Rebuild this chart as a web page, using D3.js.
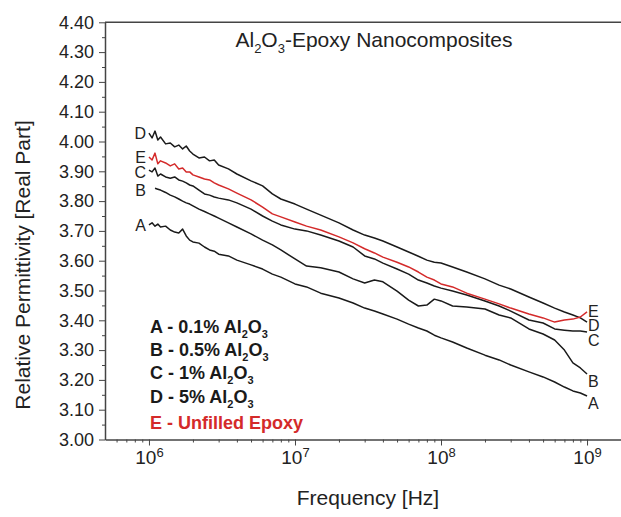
<!DOCTYPE html>
<html>
<head>
<meta charset="utf-8">
<script src="https://cdn.jsdelivr.net/npm/d3@7"></script>
<style>
  body { margin: 0; background: #fff; }
  svg { display: block; font-family: "Liberation Sans", Arial, sans-serif; }
</style>
</head>
<body>
<div id="chart"></div>
<script>
// frequencies (Hz) shared by all curves
const freqs = [1.0e6, 1.05e6, 1.1e6, 1.15e6, 1.2e6, 1.3e6, 1.4e6, 1.5e6, 1.6e6, 1.7e6,
  1.8e6, 1.9e6, 2.0e6, 2.2e6, 2.4e6, 2.6e6, 2.8e6, 3.0e6, 3.5e6, 4e6,
  5e6, 6e6, 7e6, 8e6, 1e7, 1.2e7, 1.5e7, 2e7, 2.5e7, 3e7,
  3.5e7, 4e7, 5e7, 6e7, 7e7, 8e7, 9e7, 1e8, 1.2e8, 1.5e8,
  2e8, 2.5e8, 3e8, 4e8, 5e8, 6e8, 7e8, 8e8, 9e8, 1e9];

const valuesA = [3.720, 3.727, 3.716, 3.723, 3.713, 3.716, 3.703, 3.696, 3.693, 3.706,
  3.683, 3.669, 3.663, 3.659, 3.646, 3.636, 3.632, 3.622, 3.616, 3.602,
  3.586, 3.572, 3.555, 3.545, 3.522, 3.512, 3.491, 3.475, 3.458, 3.441,
  3.431, 3.421, 3.404, 3.387, 3.374, 3.364, 3.350, 3.341, 3.327, 3.307,
  3.283, 3.267, 3.250, 3.227, 3.210, 3.193, 3.176, 3.163, 3.156, 3.146];

const valuesB = [null, null, 3.843, 3.840, 3.837, 3.829, 3.820, 3.814, 3.807, 3.800,
  3.794, 3.790, 3.784, 3.773, 3.765, 3.757, 3.750, 3.743, 3.727, 3.713,
  3.690, 3.669, 3.653, 3.636, 3.606, 3.582, 3.576, 3.562, 3.539, 3.525,
  3.535, 3.529, 3.498, 3.468, 3.448, 3.451, 3.471, 3.465, 3.448, 3.445,
  3.438, 3.418, 3.408, 3.371, 3.354, 3.334, 3.300, 3.257, 3.240, 3.220];

const valuesC = [3.904, 3.898, 3.911, 3.884, 3.891, 3.881, 3.877, 3.881, 3.871, 3.867,
  3.861, 3.854, 3.851, 3.837, 3.824, 3.820, 3.814, 3.810, 3.804, 3.794,
  3.773, 3.750, 3.733, 3.720, 3.706, 3.700, 3.686, 3.666, 3.646, 3.616,
  3.606, 3.592, 3.572, 3.555, 3.535, 3.525, 3.515, 3.508, 3.498, 3.485,
  3.465, 3.448, 3.431, 3.401, 3.391, 3.371, 3.367, 3.364, 3.364, 3.361];

const valuesD = [4.028, 4.012, 4.035, 4.005, 4.015, 3.992, 3.995, 3.982, 3.988, 3.975,
  3.985, 3.968, 3.958, 3.945, 3.948, 3.935, 3.938, 3.921, 3.908, 3.891,
  3.868, 3.851, 3.824, 3.807, 3.790, 3.773, 3.753, 3.727, 3.703, 3.686,
  3.676, 3.666, 3.646, 3.629, 3.615, 3.602, 3.595, 3.592, 3.579, 3.562,
  3.539, 3.518, 3.505, 3.478, 3.458, 3.441, 3.428, 3.418, 3.408, 3.394];

const valuesE = [3.948, 3.938, 3.961, 3.925, 3.935, 3.928, 3.918, 3.925, 3.908, 3.911,
  3.898, 3.898, 3.888, 3.881, 3.874, 3.871, 3.861, 3.854, 3.841, 3.827,
  3.804, 3.780, 3.757, 3.747, 3.730, 3.716, 3.703, 3.680, 3.660, 3.640,
  3.626, 3.612, 3.595, 3.579, 3.562, 3.545, 3.535, 3.522, 3.512, 3.491,
  3.471, 3.455, 3.441, 3.421, 3.408, 3.394, 3.401, 3.404, 3.411, 3.428];

const seriesNames = ["A", "B", "C", "D", "E"];
const legendLabels = ["A - 0.1% Al_2O_3", "B - 0.5% Al_2O_3", "C - 1% Al_2O_3", "D - 5% Al_2O_3", "E - Unfilled Epoxy"];
const yTicks = [3.00, 3.10, 3.20, 3.30, 3.40, 3.50, 3.60, 3.70, 3.80, 3.90, 4.00, 4.10, 4.20, 4.30, 4.40];
const xTicks = [1e6, 1e7, 1e8, 1e9];
const chartTitle = "Al_2O_3-Epoxy Nanocomposites";
const xTitle = "Frequency [Hz]";
const yTitle = "Relative Permittivity [Real Part]";

const W = 621, H = 517;
const black = "#1a1a1a", red = "#d42a2a";

const svg = d3.select("#chart").append("svg")
  .attr("width", W).attr("height", H);

const x = d3.scaleLog().domain([5e5, 2e9]).range([105, 631]);
const y = d3.scaleLinear().domain([3.0, 4.4]).range([439.5, 22.3]);

// writes "Al_2O_3" style text, with _n as subscript
function richText(sel, str, size, sub) {
  const parts = str.split(/_(\d)/);
  parts.forEach((p, i) => {
    if (p === "") return;
    if (i % 2 === 1) {
      sel.append("tspan").attr("font-size", sub).attr("dy", size * 0.3).text(p);
    } else {
      const t = sel.append("tspan").text(p);
      if (i > 0) t.attr("dy", -size * 0.3);
    }
  });
}

// top frame line
svg.append("line")
  .attr("x1", 105).attr("x2", W).attr("y1", y(4.4)).attr("y2", y(4.4))
  .attr("stroke", "#444").attr("stroke-width", 1.5);

// minor ticks
const yMinor = d3.range(3.05, 4.4, 0.1);
svg.append("g").attr("transform", "translate(105,0)")
  .call(d3.axisLeft(y).tickValues(yMinor).tickSize(3).tickFormat(""))
  .call(g => g.select(".domain").remove())
  .selectAll("line").attr("stroke", "#444");

const xMinor = [];
[1e5, 1e6, 1e7, 1e8, 1e9].forEach(base => {
  for (let k = 2; k <= 9; k++) {
    const v = base * k;
    if (v > 5e5 && v < 2e9) xMinor.push(v);
  }
});
svg.append("g").attr("transform", "translate(0,439.5)")
  .call(d3.axisBottom(x).tickValues(xMinor).tickSize(3).tickFormat(""))
  .call(g => g.select(".domain").remove())
  .selectAll("line").attr("stroke", "#444");

// y axis
const yAxis = svg.append("g").attr("transform", "translate(105,0)")
  .call(d3.axisLeft(y).tickValues(yTicks).tickSize(6).tickSizeOuter(0).tickPadding(5)
    .tickFormat(d3.format(".2f")));
yAxis.select(".domain").attr("stroke", "#444").attr("stroke-width", 1.5);
yAxis.selectAll(".tick line").attr("stroke", "#444");
yAxis.selectAll("text").attr("font-size", 18).attr("fill", "#222")
  .attr("font-family", "Liberation Sans, Arial, sans-serif");

// x axis
const xAxis = svg.append("g").attr("transform", "translate(0,439.5)")
  .call(d3.axisBottom(x).tickValues(xTicks).tickSize(6).tickSizeOuter(0).tickPadding(5));
xAxis.select(".domain").attr("stroke", "#444").attr("stroke-width", 1.5);
xAxis.selectAll(".tick line").attr("stroke", "#444");
xAxis.selectAll(".tick text").each(function(d) {
  const t = d3.select(this).text("")
    .attr("font-size", 19).attr("fill", "#222")
    .attr("font-family", "Liberation Sans, Arial, sans-serif");
  t.append("tspan").text("10");
  t.append("tspan").attr("font-size", 13).attr("dy", -7).text(Math.round(Math.log10(d)));
});

// axis titles
svg.append("text")
  .attr("x", 368).attr("y", 505)
  .attr("text-anchor", "middle").attr("font-size", 21).attr("fill", "#222")
  .text(xTitle);
svg.append("text")
  .attr("transform", "translate(30,265) rotate(-90)")
  .attr("text-anchor", "middle").attr("font-size", 21).attr("fill", "#222")
  .text(yTitle);

// chart title
const title = svg.append("text")
  .attr("x", 374).attr("y", 46.7)
  .attr("text-anchor", "middle").attr("font-size", 21).attr("fill", "#222");
richText(title, chartTitle, 21, 13);

// curves
const allValues = [valuesA, valuesB, valuesC, valuesD, valuesE];
const line = d3.line()
  .defined(d => d.v != null)
  .x(d => x(d.f))
  .y(d => y(d.v));

const leftNudge = { A: 0, B: 2, C: 2, D: 0, E: 0 };
const rightNudge = { A: 7, B: 7, C: 8, D: 3, E: -1 };

seriesNames.forEach((name, i) => {
  const pts = freqs.map((f, j) => ({ f: f, v: allValues[i][j] }));
  svg.append("path")
    .datum(pts)
    .attr("fill", "none")
    .attr("stroke", name === "E" ? red : black)
    .attr("stroke-width", 1.5)
    .attr("stroke-linejoin", "round")
    .attr("d", line);

  const valid = pts.filter(d => d.v != null);
  const first = valid[0], last = valid[valid.length - 1];
  // curve letters at both ends
  svg.append("text")
    .attr("x", x(1e6) - 3).attr("y", y(first.v) + leftNudge[name])
    .attr("dy", "0.35em").attr("text-anchor", "end")
    .attr("font-size", 16).attr("fill", "#222")
    .text(name);
  svg.append("text")
    .attr("x", x(last.f) + 1).attr("y", y(last.v) + rightNudge[name])
    .attr("dy", "0.35em")
    .attr("font-size", 16).attr("fill", "#222")
    .text(name);
});

// legend
legendLabels.forEach((lab, i) => {
  const t = svg.append("text")
    .attr("x", 150).attr("y", [333, 356, 379, 403, 429][i])
    .attr("font-size", 18).attr("font-weight", "bold")
    .attr("fill", i === 4 ? red : "#1a1a1a");
  richText(t, lab, 18, 11);
});
</script>
</body>
</html>
